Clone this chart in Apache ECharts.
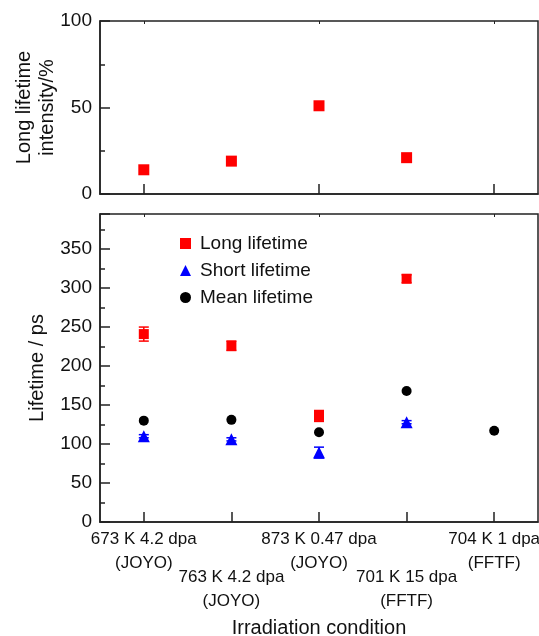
<!DOCTYPE html>
<html>

<head>
    <meta charset="utf-8">
    <title>Positron lifetime vs irradiation condition</title>
    <script src="https://cdn.jsdelivr.net/npm/echarts@6/dist/echarts.min.js"></script>
    <style>
        html,
        body {
            margin: 0;
            padding: 0;
            background: #fff;
        }

        #main {
            width: 539px;
            height: 636px;
        }
    </style>
</head>

<body>
    <div id="main"></div>

    <script>
        // irradiation conditions (two-line tick labels)
        const conditions = [
            '673 K 4.2 dpa\n(JOYO)',
            '763 K 4.2 dpa\n(JOYO)',
            '873 K 0.47 dpa\n(JOYO)',
            '701 K 15 dpa\n(FFTF)',
            '704 K 1 dpa\n(FFTF)'
        ];

        // top panel: long lifetime intensity (%)
        const intensity = [14, 19, 51, 21, null];

        // bottom panel: lifetimes (ps) and their error bars
        const longLife = [241, 226, 136, 312, null];
        const longErr = [9, 6, 7, 5, null];
        const shortLife = [110, 106, 89, 128, null];
        const shortErr = [2, 2, 7, 2, null];
        const meanLife = [130, 131, 115, 168, 117];

        const font = 'Liberation Sans, Arial, sans-serif';
        const axisColor = '#222';

        function errData(vals, errs) {
            return vals.map((v, i) => v == null ? null : [i, v - errs[i], v + errs[i]]).filter(d => d);
        }

        function errSeries(name, vals, errs, color) {
            return {
                name: name,
                type: 'custom',
                xAxisIndex: 2,
                yAxisIndex: 1,
                silent: true,
                z: 1,
                data: errData(vals, errs),
                encode: { x: 0, y: [1, 2] },
                renderItem: (params, api) => {
                    const lo = api.coord([api.value(0), api.value(1)]);
                    const hi = api.coord([api.value(0), api.value(2)]);
                    const w = 5;
                    const st = { stroke: color, lineWidth: 1.5 };
                    return {
                        type: 'group',
                        children: [
                            { type: 'line', shape: { x1: lo[0], y1: lo[1], x2: hi[0], y2: hi[1] }, style: st },
                            { type: 'line', shape: { x1: lo[0] - w, y1: lo[1], x2: lo[0] + w, y2: lo[1] }, style: st },
                            { type: 'line', shape: { x1: hi[0] - w, y1: hi[1], x2: hi[0] + w, y2: hi[1] }, style: st }
                        ]
                    };
                }
            };
        }

        const chart = echarts.init(document.getElementById('main'));

        const catAxisBase = {
            type: 'category',
            data: conditions,
            boundaryGap: true,
            axisLine: { show: true, lineStyle: { color: axisColor, width: 1.5 } },
            axisTick: { show: true, inside: true, length: 10, alignWithLabel: true, lineStyle: { color: axisColor, width: 1.5 } },
            splitLine: { show: false }
        };

        chart.setOption({
            animation: false,
            textStyle: { fontFamily: font },
            grid: [
                { left: 100, right: 1, top: 21, bottom: 442, outerBoundsMode: 'none', show: true, borderColor: axisColor, borderWidth: 1.5 },
                { left: 100, right: 1, top: 214, bottom: 114, outerBoundsMode: 'none', show: true, borderColor: axisColor, borderWidth: 1.5 }
            ],
            xAxis: [
                // top panel bottom axis
                Object.assign({}, catAxisBase, { gridIndex: 0, position: 'bottom', axisLabel: { show: false } }),
                // top panel top-edge ticks
                Object.assign({}, catAxisBase, {
                    gridIndex: 0, position: 'top', axisLine: { show: false }, axisLabel: { show: false },
                    axisTick: { show: true, inside: true, length: 3, alignWithLabel: true, lineStyle: { color: axisColor } }
                }),
                // bottom panel main axis, odd labels
                Object.assign({}, catAxisBase, {
                    gridIndex: 1, position: 'bottom',
                    axisLabel: {
                        interval: 0, margin: 5, color: '#111', fontSize: 17, lineHeight: 24,
                        formatter: (v, i) => i % 2 === 0 ? v : ''
                    }
                }),
                // bottom panel, even labels shifted down + axis name
                Object.assign({}, catAxisBase, {
                    gridIndex: 1, position: 'bottom', axisLine: { show: false }, axisTick: { show: false },
                    axisLabel: {
                        interval: 0, margin: 43, color: '#111', fontSize: 17, lineHeight: 24,
                        formatter: (v, i) => i % 2 === 1 ? v : ''
                    },
                    name: 'Irradiation condition',
                    nameLocation: 'middle',
                    nameGap: 96,
                    nameMoveOverlap: false,
                    nameTextStyle: { fontSize: 20, color: '#111' }
                }),
                // bottom panel top-edge ticks
                Object.assign({}, catAxisBase, {
                    gridIndex: 1, position: 'top', axisLine: { show: false }, axisLabel: { show: false },
                    axisTick: { show: true, inside: true, length: 3, alignWithLabel: true, lineStyle: { color: axisColor } }
                })
            ],
            yAxis: [
                {
                    gridIndex: 0,
                    type: 'value',
                    min: 0,
                    max: 100,
                    interval: 50,
                    axisLine: { show: true, lineStyle: { color: axisColor, width: 1.5 } },
                    axisTick: { show: true, inside: true, length: 10, lineStyle: { color: axisColor, width: 1.5 } },
                    minorTick: { show: true, splitNumber: 2, length: 5, lineStyle: { color: axisColor, width: 1.5 } },
                    axisLabel: { fontSize: 19, color: '#111', margin: 8 },
                    splitLine: { show: false },
                    name: 'Long lifetime\nintensity/%',
                    nameLocation: 'middle',
                    nameGap: 41,
                    nameMoveOverlap: false,
                    nameTextStyle: { fontSize: 20, color: '#111', lineHeight: 23 }
                },
                {
                    gridIndex: 1,
                    type: 'value',
                    min: 0,
                    max: 395,
                    interval: 50,
                    axisLine: { show: true, lineStyle: { color: axisColor, width: 1.5 } },
                    axisTick: { show: true, inside: true, length: 10, lineStyle: { color: axisColor, width: 1.5 } },
                    minorTick: { show: true, splitNumber: 2, length: 5, lineStyle: { color: axisColor, width: 1.5 } },
                    axisLabel: { fontSize: 19, color: '#111', margin: 8, showMaxLabel: false },
                    splitLine: { show: false },
                    name: 'Lifetime / ps',
                    nameLocation: 'middle',
                    nameGap: 53,
                    nameMoveOverlap: false,
                    nameTextStyle: { fontSize: 20, color: '#111' }
                }
            ],
            legend: {
                orient: 'vertical',
                left: 175,
                top: 229,
                itemWidth: 11,
                itemHeight: 11,
                itemGap: 8,
                textStyle: { fontSize: 19, color: '#111', padding: [0, 0, 0, 4] },
                data: ['Long lifetime', 'Short lifetime', 'Mean lifetime']
            },
            series: [
                {
                    name: 'Long lifetime intensity',
                    type: 'scatter',
                    xAxisIndex: 0,
                    yAxisIndex: 0,
                    symbol: 'rect',
                    symbolSize: 11,
                    itemStyle: { color: '#ff0000', opacity: 1 },
                    data: intensity
                },
                errSeries('Long err', longLife, longErr, '#ff0000'),
                errSeries('Short err', shortLife, shortErr, '#0000ff'),
                {
                    name: 'Long lifetime',
                    type: 'scatter',
                    xAxisIndex: 2,
                    yAxisIndex: 1,
                    symbol: 'rect',
                    symbolSize: 10,
                    itemStyle: { color: '#ff0000', opacity: 1 },
                    data: longLife
                },
                {
                    name: 'Short lifetime',
                    type: 'scatter',
                    xAxisIndex: 2,
                    yAxisIndex: 1,
                    symbol: 'triangle',
                    symbolSize: 12,
                    itemStyle: { color: '#0000ff', opacity: 1 },
                    data: shortLife
                },
                {
                    name: 'Mean lifetime',
                    type: 'scatter',
                    xAxisIndex: 2,
                    yAxisIndex: 1,
                    symbol: 'circle',
                    symbolSize: 10,
                    itemStyle: { color: '#000000', opacity: 1 },
                    data: meanLife
                }
            ]
        });
    </script>

</body>

</html>
